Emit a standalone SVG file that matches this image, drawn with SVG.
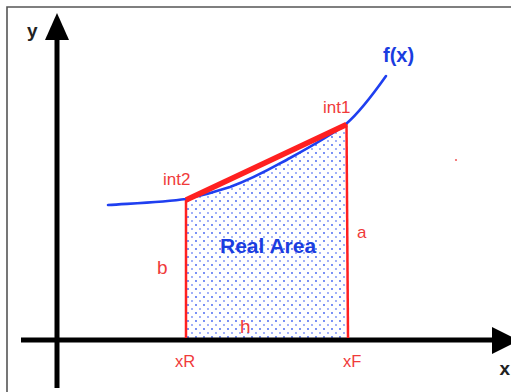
<svg xmlns="http://www.w3.org/2000/svg" width="511" height="392" viewBox="0 0 511 392">
  <style>
    .axis { stroke: #000; stroke-width: 5; fill: none; }
    .head { fill: #000; }
    .redline { stroke: #ff2020; fill: none; stroke-linecap: butt; }
    .lbl { font-family: "Liberation Sans", Arial, sans-serif; fill: #f03a3a; }
    .axlbl { font-family: "Liberation Sans", Arial, sans-serif; font-weight: bold; fill: #222; font-size: 19px; }
    .blue { font-family: "Liberation Sans", Arial, sans-serif; font-weight: bold; fill: #1a3de0; }
  </style>
  <defs>
    <pattern id="dots" width="8" height="8" patternUnits="userSpaceOnUse" x="186" y="199">
      <circle cx="2" cy="2" r="0.9" fill="#3a5cf0"/>
      <circle cx="6" cy="6" r="0.9" fill="#3a5cf0" opacity="0.7"/>
    </pattern>
  </defs>
  <rect width="511" height="392" fill="#fff"/>
  <path d="M7,392 V7 H511" fill="none" stroke="#555" stroke-width="1.6"/>

  <g id="area">
    <path d="M186,199 C200,196 215,192 230,187 C255,178 275,166 290,158 C310,147 330,136 346,124 L348,338 L186,338 Z" fill="url(#dots)"/>
  </g>

  <g id="axes">
    <line class="axis" x1="57" y1="36" x2="57" y2="388"/>
    <polygon class="head" points="57,13 45,40 69,40"/>
    <line class="axis" x1="21" y1="340" x2="495" y2="340"/>
    <polygon class="head" points="519,340.5 492,327 492,354"/>
  </g>

  <g id="curve">
    <path d="M108,205 C140,203 165,202 186,199 C200,196 215,192 230,187 C255,178 275,166 290,158 C310,147 330,136 346,124 C360,112 374,93 386,76" fill="none" stroke="#1f3ff0" stroke-width="2.6" stroke-linecap="round"/>
  </g>

  <g id="connectors">
    <line class="redline" x1="186" y1="200" x2="346.5" y2="124.5" stroke-width="5.5" stroke-linecap="round"/>
    <line class="redline" x1="186" y1="200" x2="186" y2="338" stroke-width="2.5"/>
    <line class="redline" x1="346.5" y1="124" x2="348" y2="338" stroke-width="2.5"/>
  </g>

  <g id="labels">
    <text class="axlbl" x="27" y="37">y</text>
    <text class="axlbl" x="499.5" y="375">x</text>
    <text class="blue" x="383" y="62" font-size="20">f(x)</text>
    <text class="blue" x="220" y="253" font-size="21">Real Area</text>
    <text class="lbl" x="323" y="113" font-size="17">int1</text>
    <text class="lbl" x="163" y="185" font-size="17">int2</text>
    <text class="lbl" x="157" y="274" font-size="19">b</text>
    <text class="lbl" x="357" y="238" font-size="17">a</text>
    <text class="lbl" x="240" y="333" font-size="19">h</text>
    <text class="lbl" x="175" y="367" font-size="16.5">xR</text>
    <text class="lbl" x="343" y="367" font-size="16.5">xF</text>
  </g>
  <circle cx="456" cy="160" r="1.1" fill="#f06060"/>
</svg>
